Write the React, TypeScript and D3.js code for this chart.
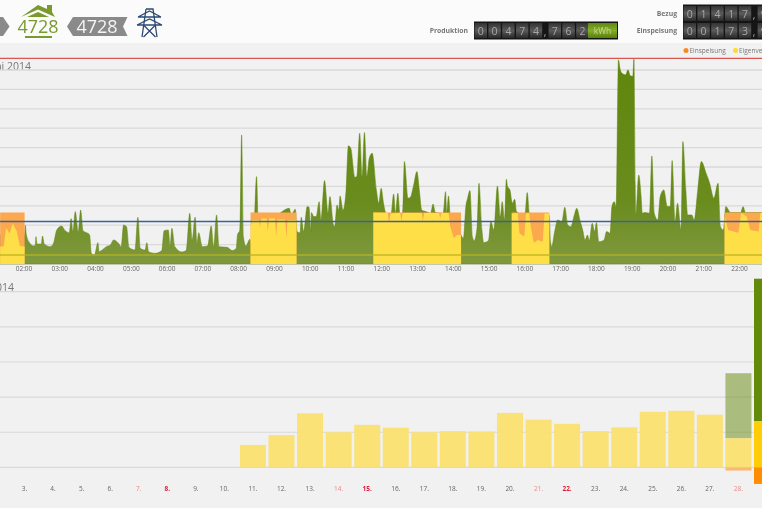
import React from "react";
import * as d3 from "d3";

// ---------- data ----------
const hourTicks = ["02:00","03:00","04:00","05:00","06:00","07:00","08:00","09:00","10:00","11:00","12:00","13:00","14:00","15:00","16:00","17:00","18:00","19:00","20:00","21:00","22:00"];

const productionWatts: [string, number][] = [
["1:20",300],["2:01",300],["2:02",400],["2:04",300],["2:10",213],["2:16",186],["2:19",196],["2:20",282],["2:22",206],["2:29",206],["2:31",289],["2:34",206],["2:44",179],["2:49",206],["2:55",351],["3:03",392],["3:09",344],["3:16",323],["3:19",468],["3:22",330],["3:26",540],["3:31",334],["3:35",557],["3:39",344],["3:47",316],["3:50",300],["3:53",110],["3:58",93],["4:04",220],["4:06",127],["4:11",144],["4:18",179],["4:25",196],["4:30",248],["4:39",210],["4:43",179],["4:47",402],["4:52",385],["4:56",172],["5:06",144],["5:11",482],["5:15",162],["5:23",144],["5:26",220],["5:29",127],["5:40",110],["5:51",138],["5:55",344],["6:02",351],["6:05",179],["6:08",368],["6:13",179],["6:25",124],["6:32",138],["6:38",523],["6:42",248],["6:47",482],["6:50",210],["6:53",323],["6:59",179],["7:08",186],["7:14",392],["7:18",179],["7:23",506],["7:27",179],["7:41",172],["7:49",138],["7:56",162],["7:58",299],["8:02",351],["8:05",1331],["8:08",282],["8:12",186],["8:19",255],["8:22",186],["8:26",400],["8:30",901],["8:33",400],["8:40",500],["9:00",500],["9:25",574],["9:28",500],["9:35",564],["9:38",334],["9:43",320],["9:45",482],["9:49",334],["9:55",592],["9:58",585],["10:01",334],["10:02",530],["10:06",489],["10:10",489],["10:15",643],["10:18",454],["10:24",860],["10:30",523],["10:33",695],["10:39",402],["10:41",385],["10:45",609],["10:48",557],["10:50",702],["10:55",557],["11:00",746],["11:04",1218],["11:08",1194],["11:15",894],["11:18",901],["11:23",1348],["11:27",901],["11:31",1355],["11:35",901],["11:39",1090],["11:44",1142],["11:51",764],["11:55",626],["11:59",781],["12:03",626],["12:07",523],["12:15",489],["12:20",722],["12:23",523],["12:27",729],["12:31",489],["12:35",523],["12:38",1056],["12:44",678],["12:48",688],["12:53",798],["12:59",953],["13:03",764],["13:07",557],["13:14",540],["13:22",523],["13:26",619],["13:30",530],["13:43",523],["13:47",746],["13:49",530],["13:52",702],["13:55",489],["14:08",385],["14:13",299],["14:17",265],["14:21",592],["14:24",678],["14:28",757],["14:32",282],["14:35",241],["14:40",385],["14:43",832],["14:48",351],["14:51",220],["14:59",241],["15:03",437],["15:08",351],["15:14",805],["15:19",489],["15:22",643],["15:26",454],["15:29",874],["15:31",798],["15:35",764],["15:39",626],["15:43",667],["15:46",540],["16:00",500],["16:04",736],["16:08",500],["16:41",500],["16:43",230],["16:45",179],["16:50",334],["16:55",454],["17:02",437],["17:07",585],["17:12",402],["17:17",385],["17:23",506],["17:27",574],["17:33",437],["17:37",351],["17:41",248],["17:45",299],["17:48",241],["17:53",420],["17:57",334],["18:00",427],["18:04",230],["18:13",248],["18:17",334],["18:23",316],["18:26",592],["18:30",643],["18:33",592],["18:37",2105],["18:40",2002],["18:44",1961],["18:49",1950],["18:53",2002],["18:57",1940],["19:01",1935],["19:03",2122],["19:05",832],["19:06",520],["19:11",918],["19:15",695],["19:17",523],["19:21",530],["19:29",523],["19:33",1114],["19:37",523],["19:43",454],["19:47",695],["19:53",764],["19:59",592],["20:04",592],["20:07",1066],["20:12",437],["20:16",626],["20:22",351],["20:25",1262],["20:30",764],["20:33",506],["20:40",506],["20:44",454],["20:50",764],["20:56",1056],["21:04",936],["21:10",832],["21:17",678],["21:24",832],["21:28",385],["21:33",351],["21:37",592],["21:45",530],["22:02",530],["22:06",592],["22:10",530],["22:40",530],
];

const feedInTop = 530;
const coveredBlocks: [string, number][][] = [
  [["1:20",180],["1:26",180],["1:30",370],["1:36",315],["1:41",420],["1:48",335],["1:53",185],["2:00",180],["2:01",180]],
  [["8:20",385],["8:23",454],["8:34",454],["8:36",385],["8:38",470],["8:47",470],["8:49",334],["8:51",470],["9:01",470],["9:03",282],["9:05",460],["9:18",460],["9:20",265],["9:22",454],["9:37",454]],
  [["11:46",530],["12:10",528],["12:12",420],["12:15",520],["12:31",525],["12:33",437],["12:35",525],["13:07",525],["13:09",437],["13:11",525],["13:36",525],["13:38",470],["13:40",525],["13:52",525],["13:55",385],["14:01",265],["14:06",300],["14:13",300]],
  [["15:38",520],["15:48",525],["15:51",316],["15:59",282],["16:02",520],["16:07",525],["16:10",385],["16:15",220],["16:22",248],["16:30",230],["16:33",520],["16:41",520]],
  [["21:35",500],["21:41",351],["21:58",323],["22:03",525],["22:12",490],["22:18",351],["22:32",334],["22:35",525],["22:40",525]],
];

const dayLabels = ["3.","4.","5.","6.","7.","8.","9.","10.","11.","12.","13.","14.","15.","16.","17.","18.","19.","20.","21.","22.","23.","24.","25.","26.","27.","28.","29."];
const saturdays = ["7.","14.","21.","28."];
const sundays = ["8.","15.","22."];
const ownUseKwh = [0,0,0,0,0,0,0,0,6.4,9.2,15.4,10,12.1,11.3,10,10.3,10.2,15.5,13.6,12.4,10.3,11.4,15.8,16.1,15,8.3,13.2];
const purchasedKwh = [0,0,0,0,0,0,0,0,0,0,0,0,0,0,0,0,0,0,0,0,0,0,0,0,0,18.5,40.5];
const exportedKwh = [0,0,0,0,0,0,0,0,0,0,0,0,0,0,0,0,0,0,0,0,0,0,0,0,0,0.9,4.7];

const producedDigits = ["0","0","4","7","4",",","7","6","2"];
const drawnDigits = ["0","1","4","1","7",",","9"];
const returnedDigits = ["0","0","1","7","3",",","9"];

// ---------- scales ----------
const clock = (s: string) => { const [h, m] = s.split(":").map(Number); return h + m / 60; };
const xHour = d3.scaleLinear().domain([2, 22]).range([24, 739.5]);
const yWatt = d3.scaleLinear().domain([0, 2000]).range([264, 70]);
const gridWatts = d3.range(0, 2001, 200);
const xDay = d3.scalePoint<string>().domain(dayLabels).range([24.5, 767]);
const yKwh = d3.scaleLinear().domain([0, 50]).range([467.4, 291.7]);
const gridKwh = d3.range(0, 51, 10);

const font = "'Open Sans', sans-serif";

const area = d3.area<[string, number]>()
  .x(d => xHour(clock(d[0])))
  .y0(yWatt(0))
  .y1(d => yWatt(d[1]));
const smoothArea = d3.area<[string, number]>()
  .x(d => xHour(clock(d[0])))
  .y0(yWatt(0))
  .y1(d => yWatt(d[1]))
  .curve(d3.curveMonotoneX);

const flatTop = (b: [string, number][]) => b.map(d => [d[0], feedInTop] as [string, number]);

function Counter({ x, y, digits, unit }: { x: number; y: number; digits: string[]; unit?: boolean }) {
  let cx = x;
  const cells: React.ReactNode[] = [];
  digits.forEach((d, i) => {
    if (d === ",") {
      cells.push(<text key={i} x={cx + 2} y={y + 14} fill="#aaa" fontSize={10} fontFamily={font} textAnchor="middle">,</text>);
      cx += 5;
    } else {
      cells.push(<rect key={"r" + i} x={cx + 0.6} y={y + 1.5} width={12.4} height={15} fill="url(#digit)" />);
      cells.push(<text key={i} x={cx + 6.8} y={y + 13} fill="#a8a8a8" fontSize={10.5} fontFamily={font} textAnchor="middle">{d}</text>);
      cx += 13.8;
    }
  });
  return (
    <g>
      <rect x={x} y={y} width={unit ? 144 : 90} height={18} fill="#151515" />
      {cells}
      {unit && <rect x={x + 114} y={y + 1.5} width={29} height={15} fill="url(#kwh)" />}
      {unit && <text x={x + 128.5} y={y + 12.5} fill="#c8d890" fontSize={8.5} fontFamily={font} textAnchor="middle">kWh</text>}
    </g>
  );
}

export default function App() {
  const barW = 26;
  return (
    <svg width={762} height={508} viewBox="0 0 762 508"
      style={{ position: "fixed", left: 0, top: 0, display: "block", filter: "blur(0.45px)" }}>
      <defs>
        <linearGradient id="green" x1="0" y1="0" x2="0" y2="1" gradientUnits="objectBoundingBox">
          <stop offset="0" stopColor="#5f860c" />
          <stop offset="0.7" stopColor="#6a8c1e" />
          <stop offset="1" stopColor="#80993f" />
        </linearGradient>
        <linearGradient id="digit" x1="0" y1="0" x2="0" y2="1">
          <stop offset="0" stopColor="#333" /><stop offset="0.5" stopColor="#5a5a5a" /><stop offset="1" stopColor="#2a2a2a" />
        </linearGradient>
        <linearGradient id="kwh" x1="0" y1="0" x2="0" y2="1">
          <stop offset="0" stopColor="#5c8a10" /><stop offset="0.5" stopColor="#86ad2c" /><stop offset="1" stopColor="#557f0c" />
        </linearGradient>
      </defs>

      <rect width={762} height={508} fill="#f1f1f1" />
      <rect width={762} height={43} fill="#fbfbfb" />

      {/* header icons */}
      <polygon points="0,17 3,17 9.5,26.5 3,36 0,36" fill="#8a8a8a" />
      <g fill="#7a9a2e">
        <polygon points="38,5 47,9 47,5 52,5 52,12 55,17 38,9.5 21,17" />
        <polygon points="38,12 49,17 27,17" />
        <rect x={25} y={36} width={27} height={2} />
      </g>
      <text x={38} y={33} textAnchor="middle" fill="#7a9a2e" fontSize={18} fontFamily={font}>4728</text>
      <polygon points="67,26.5 73,17 127.5,17 123,26.5 127.5,36 73,36" fill="#8a8a8a" />
      <text x={97} y={33} textAnchor="middle" fill="#f4f4f4" fontSize={18} fontFamily={font}>4728</text>
      <g stroke="#2b4a72" strokeWidth={1.3} fill="none">
        <path d="M146,9 L153,9 L157,37 M146,9 L142,37 M143.5,37 L155.5,25 M155.5,37 L143.5,25" />
        <path d="M138,17 L149.5,11 L161,17 M138,17 L161,17 M137,25 L149.5,19 L162,25 M137,25 L162,25" />
      </g>

      {/* counters */}
      <g fontFamily={font} fontSize={6.8} fontWeight={700} fill="#777" textAnchor="end">
        <text x={468} y={33}>Produktion</text>
        <text x={677} y={16}>Bezug</text>
        <text x={677} y={33}>Einspeisung</text>
      </g>
      <Counter x={474} y={21.5} digits={producedDigits} unit />
      <Counter x={683} y={4.5} digits={drawnDigits} />
      <Counter x={683} y={21.5} digits={returnedDigits} />

      {/* legend */}
      <circle cx={686} cy={50.5} r={2.5} fill="#f58a1f" />
      <text x={689.5} y={53} fontSize={6.5} fontFamily={font} fill="#777">Einspeisung</text>
      <circle cx={735.5} cy={50.5} r={2.5} fill="#ffd92f" />
      <text x={739} y={53} fontSize={6.5} fontFamily={font} fill="#777">Eigenverbrauch</text>

      {/* upper chart */}
      <text x={31} y={69.5} textAnchor="end" fontSize={10.5} fontFamily={font} fill="#777">Juni 2014</text>
      {gridWatts.map(w => (
        <line key={w} x1={0} x2={762} y1={yWatt(w)} y2={yWatt(w)} stroke="#d9d9d9" strokeWidth={1.3} />
      ))}
      <path d={smoothArea(productionWatts) ?? ""} fill="url(#green)" stroke="#5f860c" strokeWidth={0.5} />
      {coveredBlocks.map((b, i) => <path key={"o" + i} d={area(flatTop(b)) ?? ""} fill="#fba84e" />)}
      {coveredBlocks.map((b, i) => <path key={"y" + i} d={area(b) ?? ""} fill="#ffdf48" />)}
      <line x1={0} x2={762} y1={yWatt(92)} y2={yWatt(92)} stroke="#b8b422" strokeWidth={1.5} opacity={0.85} />
      <line x1={0} x2={762} y1={yWatt(438)} y2={yWatt(438)} stroke="#3f5f9c" strokeWidth={1.3} />
      <line x1={0} x2={762} y1={yWatt(2120)} y2={yWatt(2120)} stroke="#d8574e" strokeWidth={1.2} />
      {hourTicks.map(h => (
        <text key={h} x={xHour(clock(h))} y={270.5} textAnchor="middle" fontSize={6.5} fontFamily={font} fill="#666">{h}</text>
      ))}

      {/* lower chart */}
      <text x={14} y={290.5} textAnchor="end" fontSize={10.5} fontFamily={font} fill="#777">Juni 2014</text>
      {gridKwh.map(k => (
        <line key={k} x1={0} x2={762} y1={yKwh(k)} y2={yKwh(k)} stroke="#d9d9d9" strokeWidth={1.2} />
      ))}
      {dayLabels.map((d, i) => {
        const cx = xDay(d) as number;
        const last = i === dayLabels.length - 1;
        const own = ownUseKwh[i], buy = purchasedKwh[i], exp = exportedKwh[i];
        return (
          <g key={d}>
            {buy > 0 && <rect x={cx - barW / 2} y={yKwh(own + buy)} width={barW} height={yKwh(own) - yKwh(own + buy)} fill={last ? "#648a0a" : "#6f8f1f"} opacity={last ? 1 : 0.55} />}
            {own > 0 && <rect x={cx - barW / 2} y={yKwh(own)} width={barW} height={yKwh(0) - yKwh(own)} fill={last ? "#ffcc05" : "#fae070"} opacity={last ? 1 : 0.95} />}
            {exp > 0 && <rect x={cx - barW / 2} y={yKwh(0)} width={barW} height={yKwh(-exp) - yKwh(0)} fill={last ? "#ff8c05" : "#f8b878"} />}
            <text x={cx} y={491} textAnchor="middle" fontSize={6.5} fontFamily={font}
              fontWeight={sundays.includes(d) ? 700 : 400}
              fill={sundays.includes(d) ? "#d81e3c" : saturdays.includes(d) ? "#e88a8a" : "#666"}>{d}</text>
          </g>
        );
      })}
    </svg>
  );
}
